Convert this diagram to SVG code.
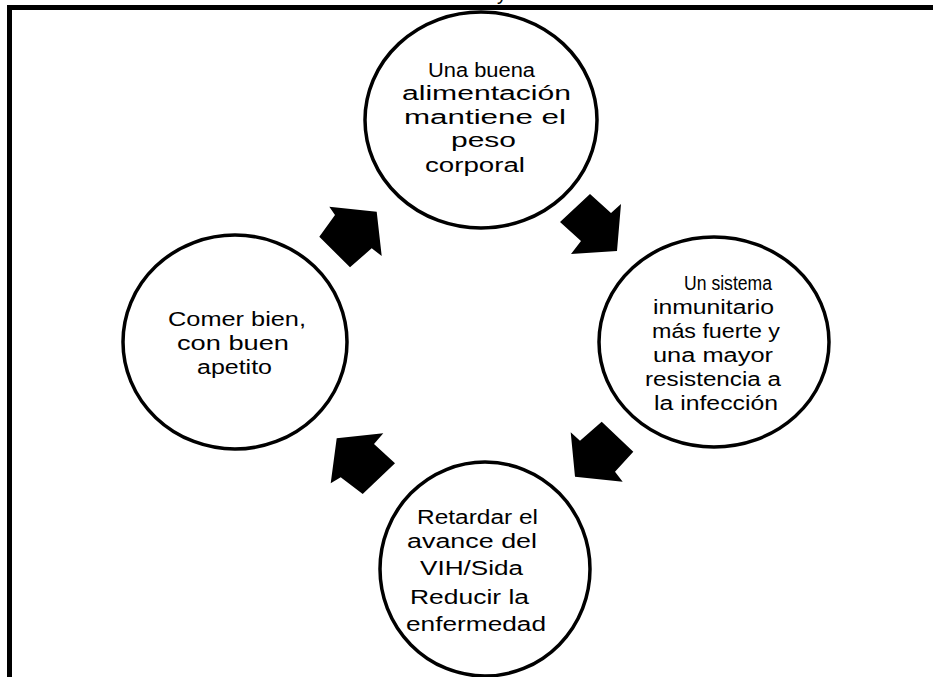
<svg xmlns="http://www.w3.org/2000/svg" width="933" height="677" viewBox="0 0 933 677">
<style>
.c{fill:#fff;stroke:#000;stroke-width:3.5}
.t{font-family:"Liberation Sans",Arial,sans-serif;font-size:19.5px;fill:#000}
.a{fill:#000;stroke:none}
</style>
<rect width="933" height="677" fill="#fff"/>
<text class="t" x="497" y="0" font-size="22">y</text>
<g id="frame">
<rect x="7" y="5" width="926" height="5" fill="#000"/>
<rect x="7" y="5" width="5" height="672" fill="#000"/>
</g>
<g id="connectors">
<polygon class="a" points="329.3,206.7 376.7,211.7 381.7,256 371.7,248.3 350,267.3 319.3,236.7 335,215"/>
<polygon class="a" points="560,222 590,194 611,213 621,204 617,251 571,254 581,241"/>
<polygon class="a" points="570.7,432.3 580,440.7 601.7,421.7 633.3,451.7 615,471.7 622.7,481.7 575,476.7"/>
<polygon class="a" points="336.7,438.3 383.3,433.3 374,444 395,463.3 362.7,494 340.7,477.3 330.7,483.3"/>
</g>
<g id="node-top">
<ellipse class="c" cx="481" cy="120" rx="116" ry="108"/>
<text class="t" x="428" y="77" textLength="107" lengthAdjust="spacingAndGlyphs">Una buena</text>
<text class="t" x="402" y="100" textLength="169" lengthAdjust="spacingAndGlyphs">alimentación</text>
<text class="t" x="404" y="124" textLength="162" lengthAdjust="spacingAndGlyphs">mantiene el</text>
<text class="t" x="451" y="147" textLength="65" lengthAdjust="spacingAndGlyphs">peso</text>
<text class="t" x="425" y="172" textLength="100" lengthAdjust="spacingAndGlyphs">corporal</text>
</g>
<g id="node-right">
<ellipse class="c" cx="714" cy="342" rx="115" ry="105"/>
<text class="t" x="684" y="290" textLength="88" lengthAdjust="spacingAndGlyphs">Un sistema</text>
<text class="t" x="653" y="314" textLength="121" lengthAdjust="spacingAndGlyphs">inmunitario</text>
<text class="t" x="652" y="338" textLength="128" lengthAdjust="spacingAndGlyphs">más fuerte y</text>
<text class="t" x="653" y="362" textLength="120" lengthAdjust="spacingAndGlyphs">una mayor</text>
<text class="t" x="645" y="386" textLength="136" lengthAdjust="spacingAndGlyphs">resistencia a</text>
<text class="t" x="654" y="410" textLength="124" lengthAdjust="spacingAndGlyphs">la infección</text>
</g>
<g id="node-bottom">
<ellipse class="c" cx="485" cy="569" rx="105" ry="107"/>
<text class="t" x="417" y="524" textLength="121" lengthAdjust="spacingAndGlyphs">Retardar el</text>
<text class="t" x="407" y="548" textLength="130" lengthAdjust="spacingAndGlyphs">avance del</text>
<text class="t" x="420" y="575" textLength="103" lengthAdjust="spacingAndGlyphs">VIH/Sida</text>
<text class="t" x="410" y="604" textLength="119" lengthAdjust="spacingAndGlyphs">Reducir la</text>
<text class="t" x="406" y="631" textLength="140" lengthAdjust="spacingAndGlyphs">enfermedad</text>
</g>
<g id="node-left">
<ellipse class="c" cx="235" cy="342" rx="112" ry="107"/>
<text class="t" x="168" y="326" textLength="138" lengthAdjust="spacingAndGlyphs">Comer bien,</text>
<text class="t" x="177" y="350" textLength="112" lengthAdjust="spacingAndGlyphs">con buen</text>
<text class="t" x="197" y="374" textLength="75" lengthAdjust="spacingAndGlyphs">apetito</text>
</g>
</svg>
